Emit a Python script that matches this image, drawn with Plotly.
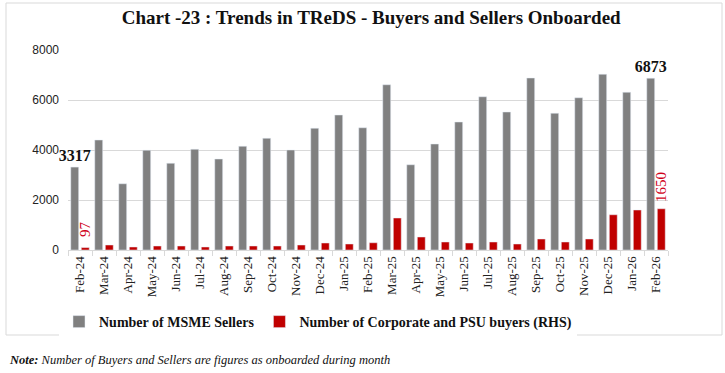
import plotly.graph_objects as go

months = ["Feb-24", "Mar-24", "Apr-24", "May-24", "Jun-24", "Jul-24", "Aug-24", "Sep-24",
          "Oct-24", "Nov-24", "Dec-24", "Jan-25", "Feb-25", "Mar-25", "Apr-25", "May-25",
          "Jun-25", "Jul-25", "Aug-25", "Sep-25", "Oct-25", "Nov-25", "Dec-25", "Jan-26", "Feb-26"]
msme_sellers = [3317, 4400, 2650, 3990, 3470, 4030, 3640, 4150, 4470, 4000, 4870, 5400, 4890,
                6610, 3410, 4240, 5120, 6130, 5520, 6880, 5470, 6090, 7030, 6310, 6873]
corp_buyers = [97, 200, 120, 160, 160, 120, 160, 160, 160, 200, 280, 240, 290,
               1280, 520, 320, 280, 320, 240, 440, 320, 440, 1410, 1600, 1650]
y_ticks = [0, 2000, 4000, 6000, 8000]

seller_text = [str(v) if i in (0, len(msme_sellers) - 1) else "" for i, v in enumerate(msme_sellers)]
buyer_text = ["\u00a0\u00a0" + str(v) if i == 0 else ("\u00a0" + str(v) if i == len(corp_buyers) - 1 else "")
              for i, v in enumerate(corp_buyers)]

SERIF = "Liberation Serif"

fig = go.Figure()
fig.add_trace(go.Bar(
    x=months, y=msme_sellers, name="Number of MSME Sellers",
    marker_color="#808080",
    text=seller_text, textposition="outside", textangle=0, constraintext="none",
    textfont=dict(family=SERIF, size=16, color="#111111", weight="bold"),
    cliponaxis=False,
))
fig.add_trace(go.Bar(
    x=months, y=corp_buyers, name="Number of Corporate and PSU buyers (RHS)",
    marker_color="#c00000",
    text=buyer_text, textposition="outside", textangle=-90, constraintext="none",
    textfont=dict(family=SERIF, size=15, color="#d0021b"),
    cliponaxis=False,
))

fig.update_layout(
    width=725, height=373,
    margin=dict(l=68, r=57, t=50, b=123),
    paper_bgcolor="white", plot_bgcolor="white",
    barmode="group", bargap=0.12, bargroupgap=0.25,
    title=dict(text="<b>Chart -23 : Trends in TReDS - Buyers and Sellers Onboarded</b>",
               x=0.512, xanchor="center", y=1 - 17 / 373, yanchor="middle",
               font=dict(family=SERIF, size=19, color="#111111")),
    legend=dict(orientation="h", x=(318 - 68) / 600, xanchor="center",
                y=(250 - 322) / 200, yanchor="middle",
                font=dict(family=SERIF, size=14, color="#111111", weight="bold"),
                itemwidth=30, traceorder="normal"),
    showlegend=True,
    font=dict(family=SERIF),
)
fig.update_xaxes(
    type="category", tickangle=-90,
    tickfont=dict(family=SERIF, size=13, color="#222222"),
    showline=True, linecolor="#d9d9d9", linewidth=1,
    ticks="outside", tickson="boundaries", ticklen=5, tickcolor="#d9d9d9",
    showgrid=False,
)
fig.update_yaxes(
    range=[0, 8000], tickvals=y_ticks,
    tickfont=dict(family="Liberation Sans", size=12, color="#222222"),
    showgrid=True, gridcolor="#d9d9d9", gridwidth=1,
    zeroline=False, showline=False, ticklabelstandoff=8,
)

# outer frame
fig.add_shape(type="rect", xref="paper", yref="paper",
              x0=(6 - 68) / 600, x1=(722 - 68) / 600,
              y0=(250 - 335) / 200, y1=(250 - 3) / 200,
              line=dict(color="#d9d9d9", width=1), fillcolor="rgba(0,0,0,0)", layer="below")

fig.add_annotation(
    text="<b><i>Note:</i></b><i> Number of Buyers and Sellers are figures as onboarded during month</i>",
    xref="paper", yref="paper", x=(7 - 68) / 600, y=(250 - 360) / 200,
    xanchor="left", yanchor="middle", showarrow=False,
    font=dict(family=SERIF, size=12.5, color="#111111"),
)

fig.write_html("out.html", config={"displayModeBar": False},
               post_script="document.body.style.margin='0';document.body.style.overflow='hidden';")
